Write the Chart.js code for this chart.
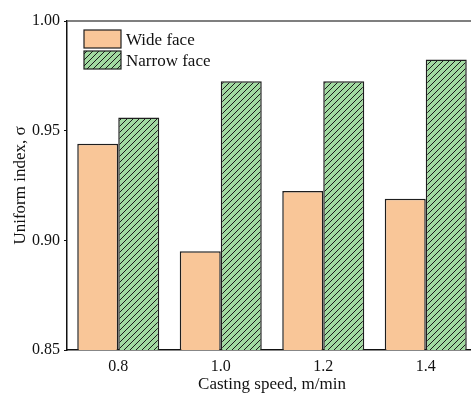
<!DOCTYPE html>
<html>
<head>
<meta charset="utf-8">
<script src="https://cdn.jsdelivr.net/npm/chart.js@4"></script>
<style>
  html, body { margin: 0; padding: 0; background: #fff; overflow: hidden; }
  #wrap { width: 471px; height: 394px; overflow: hidden; position: relative; }
  canvas { display: block; }
</style>
</head>
<body>
<div id="wrap"><canvas id="c" width="480" height="394"></canvas></div>
<script>
// Casting speed categories (m/min)
const categories = ['0.8', '1.0', '1.2', '1.4'];
// Uniform index per face
const wideFace = [0.944, 0.895, 0.9225, 0.919];
const narrowFace = [0.956, 0.9725, 0.9725, 0.9825];
// Y-axis tick range
const yTicks = [0.85, 0.90, 0.95, 1.00];

const SERIF = '"Liberation Serif", "Times New Roman", serif';
const WIDE_FILL = '#f9c698';
const NARROW_FILL = '#a1d9a0';
const EDGE = '#1e1e1e';

function hatchPattern(bg, step) {
  const p = document.createElement('canvas');
  p.width = step; p.height = step;
  const g = p.getContext('2d');
  g.fillStyle = bg;
  g.fillRect(0, 0, step, step);
  g.strokeStyle = '#1a1a1a';
  g.lineWidth = 1;
  g.beginPath();
  g.moveTo(-1, step + 1); g.lineTo(step + 1, -1);
  g.moveTo(-1, 1); g.lineTo(1, -1);
  g.moveTo(step - 1, step + 1); g.lineTo(step + 1, step - 1);
  g.stroke();
  return g.createPattern(p, 'repeat');
}

const ctx = document.getElementById('c').getContext('2d');
const narrowHatch = hatchPattern(NARROW_FILL, 6);

// Frame line along the top/right of the plot area and an inset legend
const framePlugin = {
  id: 'frame',
  afterDraw(chart) {
    const { ctx, chartArea: a } = chart;
    ctx.save();
    ctx.strokeStyle = '#555';
    ctx.lineWidth = 1.5;
    ctx.beginPath();
    ctx.moveTo(a.left, a.top);
    ctx.lineTo(a.right, a.top);
    ctx.lineTo(a.right, a.bottom);
    ctx.stroke();

    // legend
    const x0 = a.left + 17, y0 = a.top + 9, bw = 37, bh = 18, gap = 3;
    chart.data.datasets.forEach((ds, i) => {
      const y = y0 + i * (bh + gap);
      ctx.fillStyle = ds.backgroundColor;
      ctx.fillRect(x0, y, bw, bh);
      ctx.strokeStyle = EDGE;
      ctx.lineWidth = 1.2;
      ctx.strokeRect(x0, y, bw, bh);
      ctx.fillStyle = '#111';
      ctx.font = '17px ' + SERIF;
      ctx.textBaseline = 'middle';
      ctx.textAlign = 'left';
      ctx.fillText(ds.label, x0 + bw + 5, y + bh / 2 + 2);
    });
    ctx.restore();
  }
};

new Chart(ctx, {
  type: 'bar',
  data: {
    labels: categories,
    datasets: [
      { label: 'Wide face', data: wideFace, backgroundColor: WIDE_FILL,
        borderColor: EDGE, borderWidth: 1.5, borderSkipped: 'bottom' },
      { label: 'Narrow face', data: narrowFace, backgroundColor: narrowHatch,
        borderColor: EDGE, borderWidth: 1.5, borderSkipped: 'bottom' }
    ]
  },
  options: {
    responsive: false,
    animation: false,
    layout: { padding: { left: 0, top: 21, right: 3, bottom: 0 } },
    datasets: { bar: { categoryPercentage: 0.8, barPercentage: 1.0 } },
    plugins: { legend: { display: false }, tooltip: { enabled: false } },
    scales: {
      x: {
        offset: true,
        grid: { display: false, drawTicks: false },
        border: { display: true, color: '#111', width: 1.5 },
        ticks: { color: '#111', font: { family: SERIF, size: 16 }, padding: 7 },
        title: { display: true, text: 'Casting speed, m/min', color: '#111',
                 font: { family: SERIF, size: 17 }, padding: { top: 0, bottom: -1 } },
        afterFit(s) { s.height = 44; s.paddingLeft = 0; s.paddingRight = 0; }
      },
      y: {
        min: yTicks[0],
        max: yTicks[yTicks.length - 1],
        afterBuildTicks(s) { s.ticks = yTicks.map(v => ({ value: v })); },
        grid: { drawOnChartArea: false, drawTicks: true, tickLength: 3, color: '#111', tickWidth: 1.2 },
        border: { display: true, color: '#111', width: 1.5 },
        ticks: { color: '#111', font: { family: SERIF, size: 16 }, padding: 4,
                 callback: v => Number(v).toFixed(2) },
        title: { display: true, text: 'Uniform index, σ', color: '#111',
                 font: { family: SERIF, size: 17 }, padding: { top: 10, bottom: 0 } },
        afterFit(s) { s.width = 67; }
      }
    }
  },
  plugins: [framePlugin]
});
</script>
</body>
</html>
